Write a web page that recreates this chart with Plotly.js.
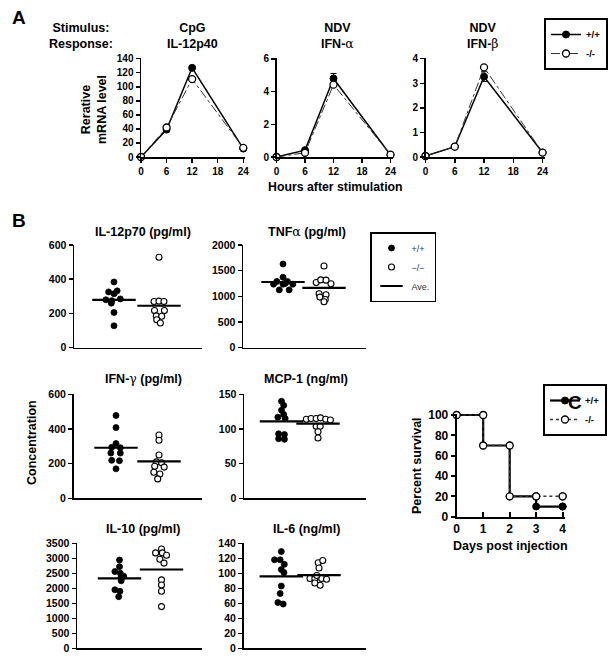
<!DOCTYPE html>
<html><head><meta charset="utf-8">
<script src="https://cdn.plot.ly/plotly-3.0.1.min.js"></script>
<style>html,body{margin:0;padding:0;background:#fff}</style>
</head><body><div id="chart" style="width:612px;height:662px"></div>
<script>
// ---------- Panel A data ----------
const hours = [0, 6, 12, 24];
const il12p40_wt = [0, 39, 127, 12];
const il12p40_ko = [0, 42, 111, 13];
const ifna_wt = [0, 0.42, 4.8, 0.12];
const ifna_ko = [0, 0.26, 4.42, 0.14];
const ifna_wt_err = [0, 0, 0.3, 0];
const ifnb_wt = [0.04, 0.42, 3.27, 0.18];
const ifnb_ko = [0.04, 0.42, 3.65, 0.18];
const ifnb_wt_err = [0, 0, 0.2, 0];

// ---------- Panel B data (10 mice per group) ----------
const il12p70_wt = [384, 332, 326, 315, 280, 285, 275, 260, 206, 128];
const il12p70_wt_jit = [0, 0.07, -0.12, 0, -0.18, 0.14, -0.05, -0.06, 0, 0];
const il12p70_ko = [528, 270, 272, 270, 217, 217, 186, 184, 163, 144];
const il12p70_ko_jit = [0, -0.11, 0, 0.11, -0.1, 0.12, -0.06, 0.06, -0.05, 0.03];

const tnfa_wt = [1630, 1372, 1290, 1290, 1237, 1237, 1237, 1126, 1126, 1250];
const tnfa_wt_jit = [0, 0, -0.15, 0.11, -0.23, 0, 0.24, -0.09, 0.15, 0.05];
const tnfa_ko = [1590, 1270, 1320, 1315, 1245, 1050, 1030, 985, 940, 895];
const tnfa_ko_jit = [0, -0.19, -0.08, 0.05, 0.17, -0.12, 0.05, -0.1, 0.03, 0];

const ifng_wt = [478, 408, 316, 294, 292, 261, 261, 219, 217, 170];
const ifng_wt_jit = [0, 0, 0, -0.1, 0.1, -0.12, 0.1, -0.1, 0.08, 0];
const ifng_ko = [365, 335, 250, 210, 205, 185, 180, 150, 140, 112];
const ifng_ko_jit = [0, 0, 0, -0.06, 0.06, -0.1, 0.12, -0.12, 0.02, -0.03];

const mcp1_wt = [140, 134, 127, 121, 117, 115, 93, 92, 86, 85];
const mcp1_wt_jit = [0, 0.06, 0, 0.06, -0.1, 0.1, -0.08, 0.08, -0.08, 0.08];
const mcp1_ko = [114, 115, 115, 116, 114, 113, 104, 104, 96, 87];
const mcp1_ko_jit = [-0.32, -0.19, -0.05, 0.07, 0.21, 0.34, -0.05, 0.06, 0, 0];

const il10_wt = [2943, 2720, 2560, 2500, 2380, 2400, 2250, 1950, 1900, 1720];
const il10_wt_jit = [0, 0, -0.11, 0.02, 0.04, 0.1, 0.04, -0.11, 0.01, -0.02];
const il10_ko = [3310, 3180, 3180, 3100, 2970, 2840, 2280, 2110, 1900, 1390];
const il10_ko_jit = [0, -0.14, 0.02, 0.12, -0.04, 0.06, 0, 0, 0, 0];

const il6_wt = [129, 118, 118, 112, 105, 101, 83, 73, 61, 59];
const il6_wt_jit = [0, -0.18, -0.03, 0.08, 0, 0.07, 0, -0.03, -0.09, 0.05];
const il6_ko = [114, 117, 107, 93, 93, 93, 92, 97, 84, 87];
const il6_ko_jit = [-0.02, 0.1, 0, -0.24, -0.11, 0.07, 0.2, -0.06, 0.03, -0.11];

// ---------- Panel C data ----------
const days = [0, 1, 2, 3, 4];
const surv_wt = [100, 70, 20, 10, 10];
const surv_ko = [100, 70, 20, 20, 20];

// ---------- helpers ----------
const W = 612, H = 662;
const FONT = 'Liberation Sans, Arial, sans-serif';
const xd = (a, b) => [a / W, b / W];
const yd = (top, bottom) => [1 - bottom / H, 1 - top / H];
const mean = a => a.reduce((s, v) => s + v, 0) / a.length;

const layout = {
  width: W, height: H,
  margin: {l: 0, r: 0, t: 0, b: 0},
  paper_bgcolor: '#fff', plot_bgcolor: 'rgba(0,0,0,0)',
  font: {family: FONT, color: '#000'},
  showlegend: true,
  annotations: [], shapes: []
};

function xAxis(id, anchor, domPx, range, extra) {
  layout['xaxis' + id] = Object.assign({
    domain: xd(domPx[0], domPx[1]), range: range, anchor: 'y' + anchor,
    showline: true, linecolor: '#000', linewidth: 1.5, showgrid: false, zeroline: false,
    ticks: 'outside', ticklen: 4, tickwidth: 1.5, tickcolor: '#000',
    tickfont: {family: FONT, size: 10, weight: 'bold', color: '#000'}, fixedrange: true
  }, extra || {});
}
function yAxis(id, anchor, domPx, range, dtick, extra) {
  layout['yaxis' + id] = Object.assign({
    domain: yd(domPx[0], domPx[1]), range: range, anchor: 'x' + anchor,
    showline: true, linecolor: '#000', linewidth: 1.5, showgrid: false, zeroline: false,
    ticks: 'outside', ticklen: 4, tickwidth: 1.5, tickcolor: '#000', dtick: dtick, tick0: 0,
    tickfont: {family: FONT, size: 10, weight: 'bold', color: '#000'}, fixedrange: true
  }, extra || {});
}
function ann(text, x, y, size, opts) {
  layout.annotations.push(Object.assign({
    text: text, xref: 'paper', yref: 'paper', x: x / W, y: 1 - y / H,
    xanchor: 'center', yanchor: 'middle', showarrow: false,
    font: {family: FONT, size: size, weight: 'bold', color: '#000'}
  }, opts || {}));
}

const traces = [];

// ---------- Panel A ----------
const aPanels = [
  {wt: il12p40_wt, ko: il12p40_ko, err: null, xdom: [141, 245.4], yr: [0, 141], dt: 20},
  {wt: ifna_wt, ko: ifna_ko, err: ifna_wt_err, xdom: [276.5, 392.9], yr: [0, 6.05], dt: 2},
  {wt: ifnb_wt, ko: ifnb_ko, err: ifnb_wt_err, xdom: [425.5, 545], yr: [0, 4.03], dt: 1}
];
aPanels.forEach((p, i) => {
  const id = i === 0 ? '' : String(i + 1);
  xAxis(id, id, p.xdom, [0, 24.5], {tickvals: [0, 6, 12, 18, 24]});
  yAxis(id, id, [58, 157], p.yr, p.dt);
  const wt = {
    x: hours, y: p.wt, xaxis: 'x' + id, yaxis: 'y' + id, type: 'scatter', mode: 'lines+markers',
    name: '+/+', legend: 'legend', showlegend: i === 0, cliponaxis: false,
    line: {color: '#000', width: 1.5},
    marker: {symbol: 'circle', size: 7, color: '#000', line: {color: '#000', width: 1}}
  };
  if (p.err) wt.error_y = {type: 'data', array: p.err, visible: true, color: '#000', thickness: 1, width: 3};
  traces.push(wt);
  traces.push({
    x: hours, y: p.ko, xaxis: 'x' + id, yaxis: 'y' + id, type: 'scatter', mode: 'lines+markers',
    name: '-/-', legend: 'legend', showlegend: i === 0, cliponaxis: false,
    line: {color: '#333', width: 1, dash: 'dashdot'},
    marker: {symbol: 'circle', size: 7, color: '#fff', line: {color: '#000', width: 1.3}}
  });
});
ann('A', 10, 18, 19, {xanchor: 'left'});
ann('Stimulus:<br>Response:', 81, 36, 12.5);
ann('CpG<br>IL-12p40', 192, 36, 12.5);
ann('NDV<br>IFN-<span style="font-family:DejaVu Serif;font-weight:normal">α</span>', 337, 36, 12.5);
ann('NDV<br>IFN-<span style="font-family:DejaVu Serif;font-weight:normal">β</span>', 483, 36, 12.5);
ann('Rerative<br>mRNA level', 94, 110, 12.5, {textangle: -90});
ann('Hours after stimulation', 335, 187, 12.3);

// ---------- Panel B ----------
const bPanels = [
  {t: 'IL-12p70 (pg/ml)', wt: il12p70_wt, wj: il12p70_wt_jit, ko: il12p70_ko, kj: il12p70_ko_jit, c: [114, 159], dom: [74, 202], yv: [245, 347.7], yr: [0, 600], dt: 200, tx: 143, ty: 232},
  {t: 'TNF<span style="font-family:DejaVu Serif;font-weight:normal">α</span> (pg/ml)', wt: tnfa_wt, wj: tnfa_wt_jit, ko: tnfa_ko, kj: tnfa_ko_jit, c: [283, 324], dom: [243, 366], yv: [245, 347.7], yr: [0, 2000], dt: 500, tx: 307, ty: 232},
  {t: 'IFN-<span style="font-family:DejaVu Serif;font-weight:normal">γ</span> (pg/ml)', wt: ifng_wt, wj: ifng_wt_jit, ko: ifng_ko, kj: ifng_ko_jit, c: [116, 159], dom: [73.5, 202], yv: [394.3, 498.3], yr: [0, 600], dt: 200, tx: 143, ty: 379},
  {t: 'MCP-1 (ng/ml)', wt: mcp1_wt, wj: mcp1_wt_jit, ko: mcp1_ko, kj: mcp1_ko_jit, c: [281.5, 318], dom: [244, 366], yv: [394.3, 498.3], yr: [0, 150], dt: 50, tx: 306, ty: 379},
  {t: 'IL-10 (pg/ml)', wt: il10_wt, wj: il10_wt_jit, ko: il10_ko, kj: il10_ko_jit, c: [119.5, 161.5], dom: [77, 202], yv: [543.3, 648.3], yr: [0, 3500], dt: 500, tx: 143, ty: 529},
  {t: 'IL-6 (ng/ml)', wt: il6_wt, wj: il6_wt_jit, ko: il6_ko, kj: il6_ko_jit, c: [281.3, 319], dom: [243.5, 366], yv: [543.3, 648.3], yr: [0, 140], dt: 20, tx: 306, ty: 529}
];
bPanels.forEach((p, i) => {
  const id = String(i + 4);
  const gap = p.c[1] - p.c[0];
  const xr = [1 - (p.c[0] - p.dom[0]) / gap, 2 + (p.dom[1] - p.c[1]) / gap];
  xAxis(id, id, p.dom, xr, {ticks: '', showticklabels: false});
  yAxis(id, id, p.yv, p.yr, p.dt, {tickfont: {family: FONT, size: 10.5, weight: 'bold', color: '#000'}});
  const first = i === 0;
  traces.push({
    x: p.wj.map(j => 1 + j), y: p.wt, xaxis: 'x' + id, yaxis: 'y' + id, type: 'scatter', mode: 'markers',
    name: '+/+', legend: 'legend2', showlegend: first, cliponaxis: false,
    marker: {symbol: 'circle', size: 6, color: '#000', line: {color: '#000', width: 0.8}}
  });
  traces.push({
    x: p.kj.map(j => 2 + j), y: p.ko, xaxis: 'x' + id, yaxis: 'y' + id, type: 'scatter', mode: 'markers',
    name: '\u2212/\u2212', legend: 'legend2', showlegend: first, cliponaxis: false,
    marker: {symbol: 'circle', size: 6, color: '#fff', line: {color: '#000', width: 1.1}}
  });
  traces.push({
    x: [1, 2], y: [mean(p.wt), mean(p.ko)], xaxis: 'x' + id, yaxis: 'y' + id, type: 'scatter', mode: 'markers',
    name: 'Ave.', legend: 'legend2', showlegend: first, cliponaxis: false,
    marker: {symbol: 'line-ew', size: 31, color: '#000', line: {color: '#000', width: 2.2}}
  });
  ann(p.t, p.tx, p.ty, 12.5);
});
ann('B', 10, 220, 19, {xanchor: 'left'});
ann('Concentration', 32, 443, 12.5, {textangle: -90});

// ---------- Panel C ----------
function stepXY(xs, ys) {
  const sx = [xs[0]], sy = [ys[0]];
  for (let i = 1; i < xs.length; i++) {
    sx.push(xs[i], xs[i]); sy.push(ys[i - 1], ys[i]);
  }
  return [sx, sy];
}
xAxis('10', '10', [456.7, 565.3], [0, 4.1], {tickvals: [0, 1, 2, 3, 4], ticks: 'inside', ticklen: 5, linewidth: 2, tickwidth: 2,
  tickfont: {family: FONT, size: 12, weight: 'bold', color: '#000'}});
yAxis('10', '10', [414, 516.7], [0, 101], 20, {linewidth: 2, tickwidth: 2,
  tickfont: {family: FONT, size: 12, weight: 'bold', color: '#000'}});
const [wx, wy] = stepXY(days, surv_wt);
const [kx, ky] = stepXY(days, surv_ko);
traces.push({
  x: wx, y: wy, xaxis: 'x10', yaxis: 'y10', type: 'scatter', mode: 'lines+markers',
  name: '+/+', legend: 'legend3', cliponaxis: false,
  line: {color: '#000', width: 2.2},
  marker: {symbol: 'circle', size: 7, color: '#000', line: {color: '#000', width: 1}}
});
traces.push({
  x: kx, y: ky, xaxis: 'x10', yaxis: 'y10', type: 'scatter', mode: 'lines+markers',
  name: '-/-', legend: 'legend3', cliponaxis: false,
  line: {color: '#333', width: 1.5, dash: 'dot'},
  marker: {symbol: 'circle', size: 7, color: '#fff', line: {color: '#000', width: 1.3}}
});
ann('C', 566, 402, 19, {xanchor: 'left'});
ann('Percent survival', 417, 466, 12.5, {textangle: -90});
ann('Days post injection', 510, 546, 12.5);

// ---------- legends ----------
layout.legend = {x: 544 / W, y: 1 - 18 / H, xanchor: 'left', yanchor: 'top', bgcolor: '#fff',
  bordercolor: '#000', borderwidth: 2, font: {family: FONT, size: 9.5, weight: 'bold', color: '#000'},
  tracegroupgap: 0, itemwidth: 30};
layout.legend2 = {x: 370 / W, y: 1 - 232 / H, xanchor: 'left', yanchor: 'top', bgcolor: '#fff',
  bordercolor: '#000', borderwidth: 1.5, font: {family: FONT, size: 9, color: '#333'},
  tracegroupgap: 0, itemwidth: 30, itemsizing: 'trace'};
layout.legend3 = {x: 543 / W, y: 1 - 384 / H, xanchor: 'left', yanchor: 'top', bgcolor: '#fff',
  bordercolor: '#000', borderwidth: 2, font: {family: FONT, size: 9.5, weight: 'bold', color: '#000'},
  tracegroupgap: 0, itemwidth: 30};

Plotly.newPlot('chart', traces, layout, {staticPlot: true, displayModeBar: false});
</script>
</body></html>
